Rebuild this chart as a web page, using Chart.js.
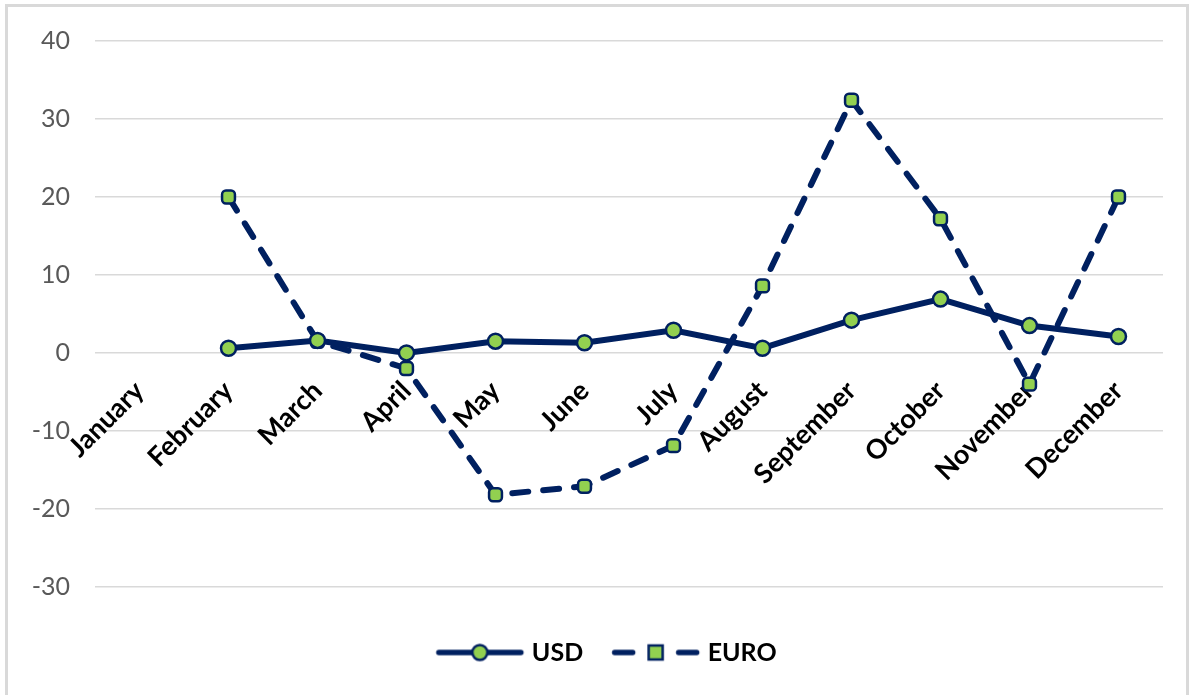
<!DOCTYPE html>
<html>
<head>
<meta charset="utf-8">
<script src="https://cdn.jsdelivr.net/npm/chart.js@4/dist/chart.umd.min.js"></script>
<style>
    html, body { margin: 0; padding: 0; background: #fff; }
    body { width: 1194px; height: 695px; overflow: hidden; position: relative; }
    .frame {
        position: absolute; left: 5px; top: 4px;
        width: 1184px; height: 700px;
        box-sizing: border-box;
        border: 3px solid #d9d9d9;
        background: #fff;
    }
    .frame canvas { display: block; }
</style>
</head>
<body>
<div class="frame"><canvas id="chart" width="1178" height="694"></canvas></div>
<script>
// chart data
const months = ['January', 'February', 'March', 'April', 'May', 'June',
    'July', 'August', 'September', 'October', 'November', 'December'];
const usdValues = [null, 0.6, 1.6, 0.0, 1.5, 1.3, 2.9, 0.6, 4.2, 6.9, 3.5, 2.1];
const euroValues = [null, 20.0, 1.5, -2.0, -18.2, -17.1, -11.9, 8.6, 32.4, 17.2, -4.0, 20.0];
const yTicks = [-30, -20, -10, 0, 10, 20, 30, 40];

const NAVY = '#002060';
const GREEN = '#92D050';
const FONT = 'Lato, "Open Sans", sans-serif';

/**
 * Build a small canvas used as legend symbol (line + marker)
 * @param {boolean} dashed - draw the dashed variant
 * @returns {HTMLCanvasElement}
 */
function makeLegendSymbol(dashed) {
    const c = document.createElement('canvas');
    c.width = 100;
    c.height = 24;
    const ctx = c.getContext('2d');
    const x0 = 6.5, x1 = 94.5, cy = 12, mx = (x0 + x1) / 2;
    ctx.strokeStyle = NAVY;
    ctx.lineWidth = 5.5;
    ctx.lineCap = 'round';
    ctx.beginPath();
    if (dashed) {
        ctx.moveTo(x0 + 3, cy); ctx.lineTo(x0 + 21, cy);
        ctx.moveTo(x1 - 21, cy); ctx.lineTo(x1 - 3, cy);
    } else {
        ctx.moveTo(x0 + 3, cy); ctx.lineTo(x1 - 3, cy);
    }
    ctx.stroke();
    ctx.fillStyle = GREEN;
    ctx.lineWidth = 2.5;
    ctx.beginPath();
    if (dashed) {
        ctx.rect(mx - 7, cy - 7, 14, 14);
    } else {
        ctx.arc(mx, cy, 7.5, 0, Math.PI * 2);
    }
    ctx.fill();
    ctx.stroke();
    return c;
}

const legendSymbols = [makeLegendSymbol(false), makeLegendSymbol(true)];

const data = {
    labels: months,
    datasets: [{
        label: 'USD',
        data: usdValues,
        borderColor: NAVY,
        borderWidth: 6,
        pointStyle: 'circle',
        pointRadius: 7.5,
        pointBorderWidth: 2.5,
        pointBackgroundColor: GREEN,
        pointBorderColor: NAVY,
        tension: 0
    }, {
        label: 'EURO',
        data: euroValues,
        borderColor: NAVY,
        borderWidth: 6,
        borderDash: [16, 15],
        borderCapStyle: 'round',
        pointStyle: 'rectRounded',
        pointRadius: 7.5,
        pointBorderWidth: 2.5,
        pointBackgroundColor: GREEN,
        pointBorderColor: NAVY,
        tension: 0
    }]
};

// legend in the reference sits a bit right of the canvas centre
const legendShift = {
    id: 'legendShift',
    afterLayout(c) {
        c.legend.left += 45;
    }
};

const chart = new Chart(document.getElementById('chart'), {
    type: 'line',
    data: data,
    options: {
        responsive: false,
        animation: false,
        layout: {
            padding: { top: 34, right: 23, bottom: 26, left: 0 }
        },
        scales: {
            y: {
                min: -30,
                max: 40,
                afterBuildTicks: (scale) => {
                    scale.ticks = yTicks.map(v => ({ value: v }));
                },
                afterFit: (scale) => { scale.width = 87; },
                border: { display: false },
                grid: {
                    color: '#d9d9d9',
                    lineWidth: 1.5,
                    drawTicks: true,
                    tickLength: 25,
                    tickColor: 'rgba(0,0,0,0)'
                },
                ticks: {
                    color: '#595959',
                    padding: 0,
                    font: { family: FONT, size: 25 }
                }
            },
            x: {
                type: 'category',
                position: { y: 0 },
                offset: true,
                border: { display: false },
                grid: { display: false, drawTicks: false },
                ticks: {
                    color: '#000',
                    autoSkip: false,
                    minRotation: 45,
                    maxRotation: 45,
                    padding: 22,
                    font: { family: FONT, size: 27, weight: 'bold' }
                }
            }
        },
        plugins: {
            legend: {
                position: 'bottom',
                title: {
                    display: true,
                    text: '',
                    padding: 4,
                    font: { family: FONT, size: 11 }
                },
                labels: {
                    usePointStyle: true,
                    pointStyleWidth: 80,
                    boxHeight: 24,
                    padding: 32,
                    color: '#000',
                    font: { family: FONT, size: 25, weight: 'bold' },
                    generateLabels: (c) => c.data.datasets.map((ds, i) => ({
                        text: ds.label,
                        pointStyle: legendSymbols[i],
                        datasetIndex: i,
                        fillStyle: GREEN,
                        strokeStyle: NAVY,
                        lineWidth: 0,
                        fontColor: '#000'
                    }))
                }
            },
            tooltip: { enabled: false }
        }
    },
    plugins: [legendShift]
});
</script>
</body>
</html>
